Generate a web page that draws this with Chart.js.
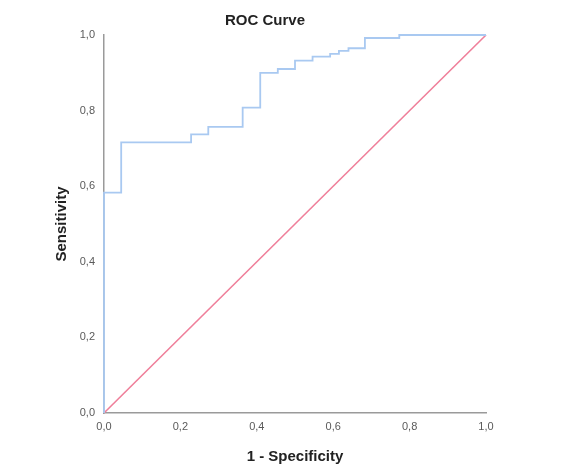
<!DOCTYPE html>
<html>
<head>
<meta charset="utf-8">
<script src="https://cdn.jsdelivr.net/npm/chart.js@4/dist/chart.umd.min.js"></script>
<style>
html,body{margin:0;padding:0;background:#fff;}
#wrap{position:relative;width:577px;height:473px;}
</style>
</head>
<body>
<div id="wrap"><canvas id="c"></canvas></div>
<script>
// ROC curve vertices: x where the curve rises, and the sensitivity it rises to
const fpr = [0.0, 0.0, 0.045, 0.228, 0.273, 0.363, 0.409, 0.455, 0.500, 0.546, 0.592, 0.615, 0.640, 0.683, 0.773, 1.0];
const tpr = [0.0, 0.583, 0.716, 0.737, 0.757, 0.808, 0.900, 0.910, 0.932, 0.943, 0.950, 0.958, 0.965, 0.992, 1.0, 1.0];
// reference (chance) line
const refX = [0.0, 1.0];
const refY = [0.0, 1.0];
const xTickLabels = ['0,0', '0,2', '0,4', '0,6', '0,8', '1,0'];
const yTickLabels = ['0,0', '0,2', '0,4', '0,6', '0,8', '1,0'];
const titleText = 'ROC Curve';
const xTitle = '1 - Specificity';
const yTitle = 'Sensitivity';

const rocPts = fpr.map((x, i) => ({x: x, y: tpr[i]}));
const refPts = refX.map((x, i) => ({x: x, y: refY[i]}));

const FONT = "'Liberation Sans', Arial, sans-serif";

new Chart(document.getElementById('c'), {
  type: 'scatter',
  data: {
    datasets: [
      {
        label: 'Reference',
        data: refPts,
        showLine: true,
        borderColor: '#ef7f9a',
        borderWidth: 1.6,
        pointRadius: 0,
        clip: false,
        order: 2
      },
      {
        label: 'ROC',
        data: rocPts,
        showLine: true,
        stepped: 'before',
        borderColor: '#a9c9f1',
        borderWidth: 1.8,
        pointRadius: 0,
        clip: false,
        order: 1
      }
    ]
  },
  options: {
    responsive: true,
    maintainAspectRatio: false,
    animation: false,
    layout: {padding: {left: 44, right: 91, top: 0, bottom: 0}},
    plugins: {
      legend: {display: false},
      tooltip: {enabled: false},
      title: {
        display: true,
        text: titleText,
        color: '#222',
        font: {family: FONT, size: 15, weight: 'bold'},
        padding: {top: 12, bottom: 5}
      }
    },
    scales: {
      x: {
        type: 'linear',
        min: 0, max: 1,
        afterFit: (s) => { s.height = 60; },
        grid: {display: false, drawTicks: false},
        border: {display: true, color: '#9a9a9a', width: 1.5},
        ticks: {
          stepSize: 0.2,
          padding: 7,
          color: '#5a5a5a',
          font: {family: FONT, size: 11},
          callback: (v, i) => xTickLabels[i]
        },
        title: {
          display: true,
          text: xTitle,
          color: '#222',
          font: {family: FONT, size: 15, weight: 'bold'},
          padding: {top: 7, bottom: 7}
        }
      },
      y: {
        type: 'linear',
        min: 0, max: 1,
        afterFit: (s) => { s.width = 60; },
        grid: {display: false, drawTicks: false},
        border: {display: true, color: '#9a9a9a', width: 1.5},
        ticks: {
          stepSize: 0.2,
          padding: 9,
          color: '#5a5a5a',
          font: {family: FONT, size: 11},
          callback: (v, i) => yTickLabels[i]
        },
        title: {
          display: true,
          text: yTitle,
          color: '#222',
          font: {family: FONT, size: 15, weight: 'bold'},
          padding: {top: 9, bottom: 0}
        }
      }
    }
  }
});
</script>
</body>
</html>
